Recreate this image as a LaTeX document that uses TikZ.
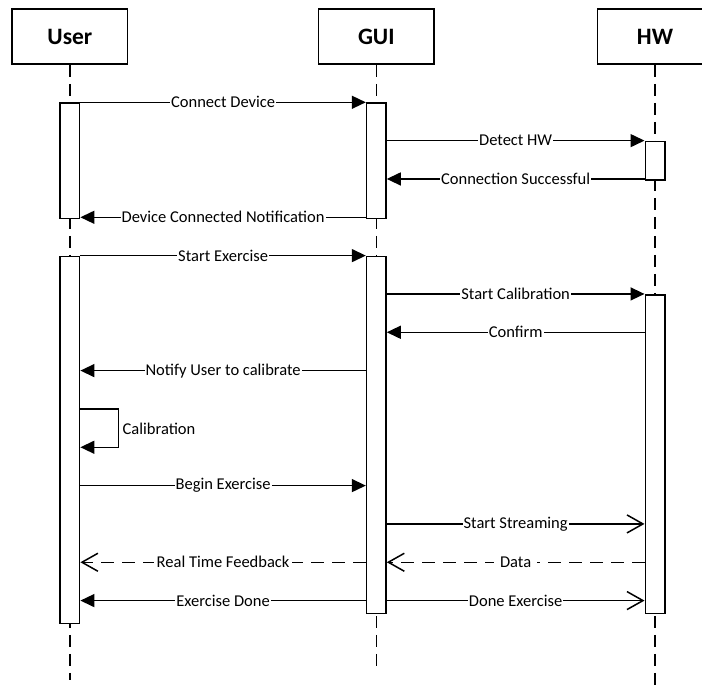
\documentclass[tikz,border=0pt]{standalone}
\usepackage{fontspec}
\setmainfont{Carlito}
\usetikzlibrary{arrows.meta}

\tikzset{
  actor/.style={draw, line width=1.5pt, fill=white, minimum width=115.5pt, minimum height=55pt,
    inner sep=0pt, font=\fontsize{23.5}{26}\selectfont\bfseries},
  actbar/.style={draw, line width=1.5pt, fill=white, minimum width=19.5pt, inner sep=0pt, anchor=north},
  life/.style={line width=1.5pt, dash pattern=on 12pt off 7pt},
  msg/.style={line width=1.5pt, -{Triangle[length=14pt,width=13pt]}},
  openmsg/.style={line width=1.5pt, -{Straight Barb[length=16pt,width=18pt,line width=1.5pt]}},
  retmsg/.style={line width=1.5pt, dash pattern=on 13pt off 8pt, -{Straight Barb[length=16pt,width=18pt,line width=1.5pt,sep=0pt]}},
  lbl/.style={fill=white, inner xsep=1pt, inner ysep=0pt, font=\fontsize{16.5}{19}\selectfont},
}

\begin{document}
\begin{tikzpicture}[x=1pt, y=-1pt]
  \useasboundingbox (0,0) rectangle (702,687);
  \clip (0,0) rectangle (702,687);

  % participants
  \node[actor] (user) at (69.9,36.7) {User};
  \node[actor] (gui)  at (376.3,36.7) {GUI};
  \node[actor] (hw)   at (655,36.7) {HW};

  % ends of the lifelines
  \coordinate (userend) at (69.9,680);
  \coordinate (guiend)  at (376.3,672);
  \coordinate (hwend)   at (655,690);

  \draw[life] (user.south) -- (userend);
  \draw[life] (gui.south) -- (guiend);
  \draw[life] (hw.south) -- (hwend);

  % message rows
  \foreach \k in {0,...,13} {
    \coordinate (r\k) at (0,{102.3+38.33*\k});
  }

  % activation bars
  \node[actbar, minimum height=115.4pt] (ubar1) at (69.9,102.3) {};
  \node[actbar, minimum height=115.4pt] (gbar1) at (376.3,102.3) {};
  \node[actbar, minimum height=38.6pt]  (hbar1) at (655,140.7) {};
  \node[actbar, minimum height=366.7pt] (ubar2) at (69.9,256) {};
  \node[actbar, minimum height=356.7pt] (gbar2) at (376.3,256) {};
  \node[actbar, minimum height=318.4pt] (hbar2) at (655,294.3) {};

  % connection phase
  \draw[msg] (ubar1.east |- r0) -- node[lbl] {Connect Device} (gbar1.west |- r0);
  \draw[msg] (gbar1.east |- r1) -- node[lbl] {Detect HW} (hbar1.west |- r1);
  \draw[msg] (hbar1.west |- r2) -- node[lbl] {Connection Successful} (gbar1.east |- r2);
  \draw[msg] (gbar1.west |- r3) -- node[lbl] {Device Connected Notification} (ubar1.east |- r3);

  % exercise phase
  \draw[msg] (ubar2.east |- r4) -- node[lbl] {Start Exercise} (gbar2.west |- r4);
  \draw[msg] (gbar2.east |- r5) -- node[lbl] {Start Calibration} (hbar2.west |- r5);
  \draw[msg] (hbar2.west |- r6) -- node[lbl] {Confirm} (gbar2.east |- r6);
  \draw[msg] (gbar2.west |- r7) -- node[lbl] {Notify User to calibrate} (ubar2.east |- r7);

  % self call
  \coordinate (selfturn) at (118.3,0);
  \draw[msg] (ubar2.east |- r8) -- (selfturn |- r8) -- (selfturn |- r9) -- (ubar2.east |- r9);
  \node[lbl, fill=none, anchor=west] (callbl) at (121.5,429.3) {Calibration};

  \draw[msg] (ubar2.east |- r10) -- node[lbl] {Begin Exercise} (gbar2.west |- r10);
  \draw[openmsg] (gbar2.east |- r11) -- node[lbl] {Start Streaming} (hbar2.west |- r11);
  \draw[retmsg] (gbar2.west |- r12) -- node[lbl, inner xsep=3pt] {Real Time Feedback} (ubar2.east |- r12);
  \draw[retmsg] (hbar2.west |- r12) -- node[lbl, inner xsep=6pt] {Data} (gbar2.east |- r12);
  \draw[msg] (gbar2.west |- r13) -- node[lbl] {Exercise Done} (ubar2.east |- r13);
  \draw[openmsg] (gbar2.east |- r13) -- node[lbl] {Done Exercise} (hbar2.west |- r13);
\end{tikzpicture}
\end{document}
